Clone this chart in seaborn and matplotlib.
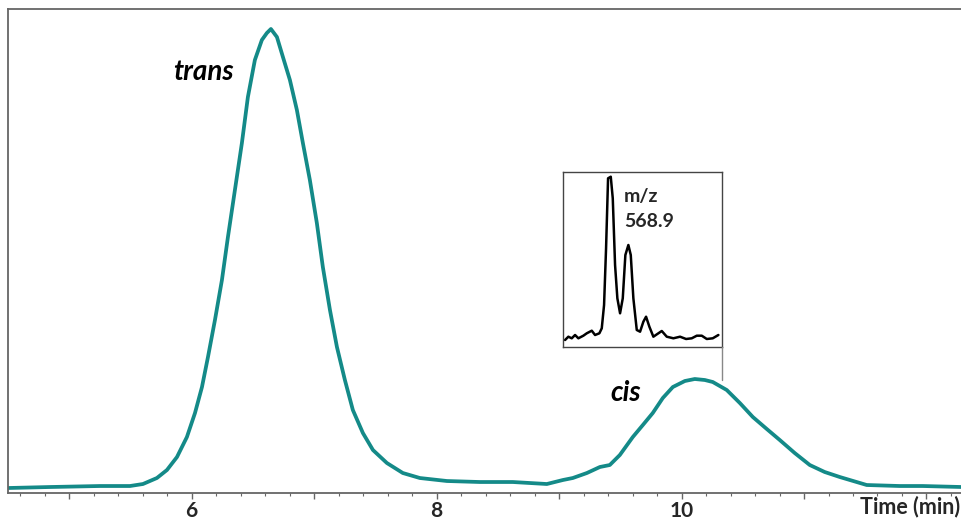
import matplotlib
matplotlib.use("Agg")
import matplotlib.pyplot as plt
import seaborn as sns
import pandas as pd
from matplotlib.lines import Line2D
from matplotlib.ticker import MultipleLocator, FixedLocator

# ---- main chromatogram (time in min, intensity in arbitrary units) ----
time_min = [4.500, 4.843, 5.251, 5.496, 5.602, 5.716, 5.798, 5.880, 5.961, 6.027,
            6.084, 6.133, 6.190, 6.247, 6.296, 6.353, 6.410, 6.459, 6.516, 6.573,
            6.614, 6.647, 6.696, 6.745, 6.802, 6.859, 6.908, 6.965, 7.022, 7.071,
            7.129, 7.186, 7.251, 7.316, 7.398, 7.480, 7.594, 7.724, 7.863, 8.084,
            8.353, 8.622, 8.900, 9.031, 9.112, 9.227, 9.333, 9.414, 9.496, 9.602,
            9.684, 9.765, 9.847, 9.929, 10.027, 10.108, 10.190, 10.255, 10.369, 10.476,
            10.582, 10.696, 10.802, 10.924, 11.047, 11.169, 11.292, 11.512, 11.782, 11.969,
            12.288]
intensity = [5, 6, 7, 7, 9, 15, 23, 36, 56, 80,
             106, 136, 173, 213, 256, 303, 350, 396, 433, 453,
             460, 464, 456, 436, 413, 383, 350, 313, 270, 226,
             183, 146, 113, 83, 60, 43, 30, 20, 15, 12,
             11, 11, 9, 13, 15, 20, 26, 28, 38, 56,
             68, 80, 95, 106, 112, 114, 113, 111, 103, 90,
             76, 64, 53, 40, 28, 21, 16, 8, 7, 7,
             6]

# ---- inset mass spectrum (arbitrary units) ----
ms_x = [2, 5.3, 8.7, 12, 15.3, 20.3, 23.7, 28.7, 32, 36.3,
        38.7, 41, 43, 45, 47.7, 49.7, 52, 54.3, 57, 59.7,
        62.3, 65.3, 67.7, 70.3, 73.7, 77, 80.3, 83, 86.3, 90.3,
        95.3, 98.7, 103.7, 110.3, 117, 123, 128.7, 133.7, 138.7, 143.7,
        149.7, 155.3]
ms_y = [7, 10.3, 8.7, 12, 8.7, 11.3, 13.7, 16.3, 12, 13.7,
        18.7, 42, 98.7, 168.7, 170.3, 148.7, 82, 48.7, 33.7, 48.7,
        92, 102, 92, 48.7, 17, 15.3, 25.3, 30.3, 20.3, 10.3,
        13.7, 16, 10.3, 8.7, 10.3, 8, 8.7, 11.3, 11.3, 8,
        8.7, 12]

xtick_labels = {6: "6", 8: "8", 10: "10"}
peak_labels = ["trans", "cis"]
peak_label_pos = [(6.10, 421), (9.545, 100)]
inset_text = "m/z\n568.9"

TEAL = "#148A88"
GRAY = "#666666"

sns.set_theme(style="white")
plt.rcParams["font.family"] = ["Lato", "DejaVu Sans"]

fig = plt.figure(figsize=(9.62, 5.2), dpi=100)
ax = fig.add_axes([0.0083, 0.0519, 0.9917, 0.9308])

df = pd.DataFrame({"t": time_min, "i": intensity})
sns.lineplot(data=df, x="t", y="i", ax=ax, color=TEAL, linewidth=2.7,
             estimator=None, sort=False)
ax.set_xlim(4.5, 12.29)
ax.set_ylim(0, 484)
ax.set_xlabel("")
ax.set_ylabel("")
ax.set_yticks([])

for s in ["top", "left", "bottom"]:
    ax.spines[s].set_color(GRAY)
    ax.spines[s].set_linewidth(1.3)
ax.spines["right"].set_visible(False)

majors = list(range(5, 13))
ax.xaxis.set_major_locator(FixedLocator(majors))
ax.set_xticklabels([xtick_labels.get(m, "") for m in majors],
                   fontsize=15, fontweight="bold")
ax.xaxis.set_minor_locator(MultipleLocator(0.2))
ax.tick_params(axis="x", which="major", direction="out", length=4, width=1,
               color=GRAY, pad=2, bottom=True)
ax.tick_params(axis="x", which="minor", direction="out", length=2.5, width=0.8,
               color=GRAY, bottom=True)

ax.text(0.9985, -0.006, "Time (min)", transform=ax.transAxes, ha="right", va="top",
        fontsize=15.5, fontweight="bold")

for lab, (x, y) in zip(peak_labels, peak_label_pos):
    ax.text(x, y, lab, ha="center", va="center", fontsize=20,
            fontweight="bold", fontstyle="italic", color="black")

# ---- inset ----
ins = fig.add_axes([0.5853, 0.3327, 0.1653, 0.3365])
sns.lineplot(x=ms_x, y=ms_y, ax=ins, color="black", linewidth=1.8,
             estimator=None, sort=False)
ins.set_xlim(0, 159)
ins.set_ylim(0, 175)
ins.set_xticks([])
ins.set_yticks([])
ins.set_facecolor("white")
for s in ins.spines.values():
    s.set_color("#444444")
    s.set_linewidth(1.0)
ins.text(0.384, 0.91, inset_text, transform=ins.transAxes, ha="left", va="top",
         fontsize=14, fontweight="bold", linespacing=1.6)

# connector from inset corner down to the cis peak
pos = ins.get_position()
fig.add_artist(Line2D([pos.x1, pos.x1], [pos.y0, 1 - 380 / 520],
                      transform=fig.transFigure, color="#888888", linewidth=1.0))

fig.savefig("out.png", dpi=100)
